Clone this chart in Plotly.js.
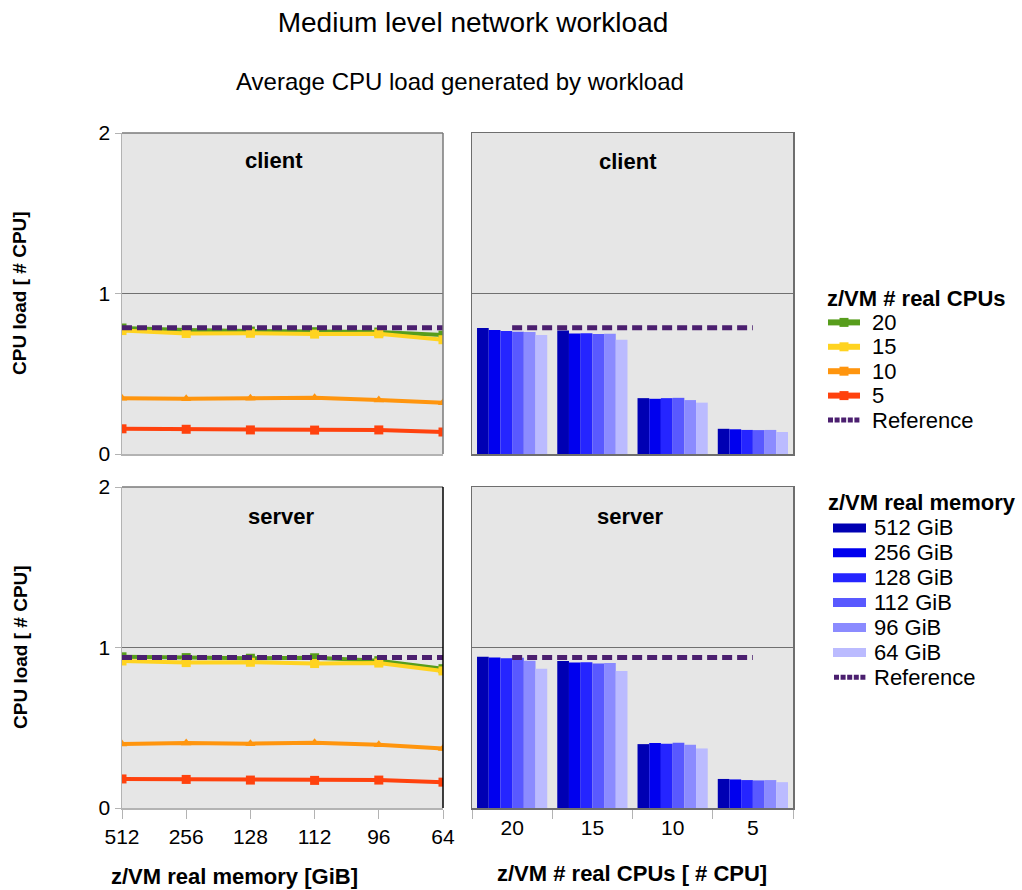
<!DOCTYPE html>
<html>
<head>
<meta charset="utf-8">
<script src="https://cdn.plot.ly/plotly-3.0.1.min.js"></script>
<style>html,body{margin:0;padding:0;background:#fff;}#chart{width:1022px;height:890px;}</style>
</head>
<body>
<div id="chart"></div>
<script>
// ---- data ----
const memLabels = ['512', '256', '128', '112', '96', '64'];
const memLegend = ['512 GiB', '256 GiB', '128 GiB', '112 GiB', '96 GiB', '64 GiB'];
const cpuLabels = ['20', '15', '10', '5'];

// client: CPU load per z/VM real memory, one array per # real CPUs
const client20 = [0.785, 0.772, 0.766, 0.762, 0.760, 0.741];
const client15 = [0.769, 0.751, 0.752, 0.747, 0.749, 0.712];
const client10 = [0.348, 0.344, 0.348, 0.350, 0.336, 0.320];
const client5  = [0.157, 0.154, 0.150, 0.149, 0.150, 0.137];
const clientRef = 0.787;

// server
const server20 = [0.942, 0.937, 0.933, 0.936, 0.918, 0.868];
const server15 = [0.916, 0.906, 0.908, 0.900, 0.903, 0.854];
const server10 = [0.398, 0.405, 0.401, 0.407, 0.394, 0.371];
const server5  = [0.181, 0.178, 0.174, 0.172, 0.174, 0.161];
const serverRef = 0.937;

// ---- styles ----
const FONT = 'Liberation Sans, Arial, sans-serif';
const cpuColors = ['#579d1c', '#ffd320', '#ff950e', '#ff420e'];
const cpuSymbols = ['square', 'square', 'triangle-up', 'square'];
const memColors = ['#0000b3', '#0000ee', '#2525ff', '#5959ff', '#8b8bff', '#bbbbff'];
const refColor = '#4b1f6f';
const refDash = '10px,5px';

const clientSeries = [client20, client15, client10, client5];
const serverSeries = [server20, server15, server10, server5];

const traces = [];

function lineTraces(series, ref, xa, ya) {
  series.forEach((vals, k) => {
    traces.push({
      type: 'scatter', mode: 'lines+markers', x: memLabels, y: vals,
      xaxis: xa, yaxis: ya, name: cpuLabels[k], showlegend: false,
      line: {color: cpuColors[k], width: 4},
      marker: {color: cpuColors[k], symbol: cpuSymbols[k], size: 9}
    });
  });
  traces.push({
    type: 'scatter', mode: 'lines', x: memLabels, y: memLabels.map(() => ref),
    xaxis: xa, yaxis: ya, name: 'Reference', showlegend: false,
    line: {color: refColor, width: 5, dash: refDash}
  });
}

function barTraces(series, ref, xa, ya) {
  memLabels.forEach((m, i) => {
    traces.push({
      type: 'bar', x: cpuLabels, y: series.map(s => s[i]),
      xaxis: xa, yaxis: ya, name: memLegend[i], showlegend: false,
      marker: {color: memColors[i], line: {width: 0}}
    });
  });
  traces.push({
    type: 'scatter', mode: 'lines', x: cpuLabels, y: cpuLabels.map(() => ref),
    xaxis: xa, yaxis: ya, name: 'Reference', showlegend: false,
    line: {color: refColor, width: 5, dash: refDash}
  });
}

lineTraces(clientSeries, clientRef, 'x', 'y');
barTraces(clientSeries, clientRef, 'x2', 'y2');
lineTraces(serverSeries, serverRef, 'x3', 'y3');
barTraces(serverSeries, serverRef, 'x4', 'y4');

const W = 1022, H = 890;
const px = v => v / W;
const py = v => 1 - v / H;

const leftDom = [px(122), px(443)];
const rightDom = [px(472), px(793)];
const topDom = [py(454), py(133)];
const botDom = [py(808), py(487)];

const tickFont = {family: FONT, size: 21, color: '#000'};

function yLeft(dom) {
  return {
    domain: dom, range: [0, 2], tickvals: [0, 1, 2], ticktext: ['0', '1', '2'],
    showgrid: true, gridcolor: '#707070', gridwidth: 1, zeroline: false,
    showline: true, linecolor: '#b3b3b3', linewidth: 1.5,
    ticks: 'outside', ticklen: 6, tickcolor: '#b3b3b3', tickfont: tickFont, fixedrange: true
  };
}
function yRight(dom) {
  return {
    domain: dom, range: [0, 2], tickvals: [0, 1, 2], showticklabels: false,
    showgrid: true, gridcolor: '#707070', gridwidth: 1, zeroline: false,
    showline: true, mirror: true, linecolor: '#6e6e6e', linewidth: 1.5, ticks: '', fixedrange: true
  };
}
function xLeft(dom, labels) {
  return {
    domain: dom, type: 'category', range: [0, 5], showgrid: false, zeroline: false,
    showline: true, linecolor: '#b3b3b3', linewidth: 1.5,
    ticks: labels ? 'outside' : '', ticklen: 9, tickcolor: '#b3b3b3',
    showticklabels: labels, tickfont: tickFont, fixedrange: true
  };
}
function xRight(dom, labels) {
  return {
    domain: dom, type: 'category', range: [-0.5, 3.5], showgrid: false, zeroline: false,
    showline: true, mirror: true, linecolor: '#6e6e6e', linewidth: 1.5,
    ticks: labels ? 'outside' : '', tickson: 'boundaries', ticklen: 9, tickcolor: '#b3b3b3',
    showticklabels: labels, tickfont: tickFont, fixedrange: true
  };
}

function ann(text, x, y, size, bold, angle, xanchor) {
  return {
    text: bold ? '<b>' + text + '</b>' : text, xref: 'paper', yref: 'paper',
    x: px(x), y: py(y), xanchor: xanchor || 'center', yanchor: 'middle', showarrow: false,
    font: {family: FONT, size: size, color: '#000'}, textangle: angle || 0
  };
}

// borders for the line panels (top and right edges darker)
function edgeShapes(xa, ya, rightColor) {
  return [
    {type: 'line', xref: xa + ' domain', yref: ya + ' domain', x0: 0, x1: 1, y0: 1, y1: 1,
     line: {color: '#7a7a7a', width: 1.5}, layer: 'above'},
    {type: 'line', xref: xa + ' domain', yref: ya + ' domain', x0: 1, x1: 1, y0: 0, y1: 1,
     line: {color: rightColor, width: 1.5}, layer: 'above'}
  ];
}

const annotations = [
  ann('Average CPU load generated by workload', 460, 82, 24, false),
  ann('client', 274, 160, 22, true),
  ann('client', 628, 162, 22, true),
  ann('server', 281, 516, 22, true),
  ann('server', 630, 516, 22, true),
  ann('CPU load [ # CPU]', 20, 293, 19, true, -90),
  ann('CPU load [ # CPU]', 20, 647, 19, true, -90),
  ann('z/VM real memory [GiB]', 234, 876, 22, true),
  ann('z/VM # real CPUs [ # CPU]', 632, 873, 22, true)
];
const shapes = [].concat(edgeShapes('x', 'y', '#7a7a7a'), edgeShapes('x3', 'y3', '#000000'));

// ---- legend 1 (line panels) ----
const leg1Top = 298, leg1Step = 24.4;
annotations.push(ann('z/VM # real CPUs', 825, leg1Top, 22, true, 0, 'left'));
const leg1Names = cpuLabels.concat(['Reference']);
leg1Names.forEach((name, k) => {
  const yy = leg1Top + leg1Step * (k + 1);
  annotations.push(ann(name, 870, yy, 22, false, 0, 'left'));
  if (k < cpuLabels.length) {
    shapes.push({type: 'line', xref: 'paper', yref: 'paper', x0: px(828), x1: px(860), y0: py(yy), y1: py(yy),
                 line: {color: cpuColors[k], width: 6}});
    shapes.push({type: 'rect', xref: 'paper', yref: 'paper', x0: px(839.5), x1: px(848.5), y0: py(yy - 4.5), y1: py(yy + 4.5),
                 fillcolor: cpuColors[k], line: {width: 0}});
  } else {
    shapes.push({type: 'line', xref: 'paper', yref: 'paper', x0: px(828), x1: px(860), y0: py(yy), y1: py(yy),
                 line: {color: refColor, width: 5, dash: '5px,1.6px'}});
  }
});

// ---- legend 2 (bar panels) ----
const leg2Top = 503, leg2Step = 24.9;
annotations.push(ann('z/VM real memory', 826, leg2Top, 22, true, 0, 'left'));
const leg2Names = memLegend.concat(['Reference']);
leg2Names.forEach((name, k) => {
  const yy = leg2Top + leg2Step * (k + 1);
  annotations.push(ann(name, 872, yy, 22, false, 0, 'left'));
  if (k < memLegend.length) {
    shapes.push({type: 'rect', xref: 'paper', yref: 'paper', x0: px(833), x1: px(866), y0: py(yy - 4.5), y1: py(yy + 4.5),
                 fillcolor: memColors[k], line: {width: 0}});
  } else {
    shapes.push({type: 'line', xref: 'paper', yref: 'paper', x0: px(834), x1: px(866), y0: py(yy), y1: py(yy),
                 line: {color: refColor, width: 5, dash: '5px,1.6px'}});
  }
});

const layout = {
  width: W, height: H,
  margin: {l: 0, r: 0, t: 0, b: 0},
  paper_bgcolor: '#ffffff', plot_bgcolor: '#e6e6e6',
  font: {family: FONT, color: '#000'},
  showlegend: false,
  barmode: 'group', bargap: 0.125, bargroupgap: 0,
  title: {text: 'Medium level network workload', x: px(473), xanchor: 'center',
          y: py(22), yanchor: 'middle', yref: 'container',
          font: {family: FONT, size: 28, color: '#000'}},
  xaxis: Object.assign(xLeft(leftDom, false), {anchor: 'y'}),
  yaxis: Object.assign(yLeft(topDom), {anchor: 'x'}),
  xaxis2: Object.assign(xRight(rightDom, false), {anchor: 'y2'}),
  yaxis2: Object.assign(yRight(topDom), {anchor: 'x2'}),
  xaxis3: Object.assign(xLeft(leftDom, true), {anchor: 'y3'}),
  yaxis3: Object.assign(yLeft(botDom), {anchor: 'x3'}),
  xaxis4: Object.assign(xRight(rightDom, true), {anchor: 'y4'}),
  yaxis4: Object.assign(yRight(botDom), {anchor: 'x4'}),
  annotations: annotations,
  shapes: shapes
};

Plotly.newPlot('chart', traces, layout, {displayModeBar: false, staticPlot: true});
</script>
</body>
</html>
